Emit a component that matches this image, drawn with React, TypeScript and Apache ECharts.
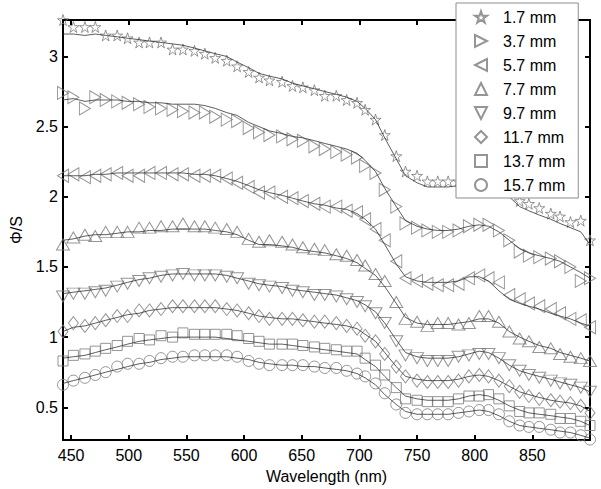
import React, { useEffect, useRef } from "react";
import * as echarts from "echarts";

const wavelengths = [443,452,462,471,480,490,499,509,518,528,538,547,557,566,575,585,594,604,613,622,633,642,651,661,670,680,689,698,705,714,722,732,740,750,759,768,777,786,795,804,812,821,830,839,847,856,866,874,883,892,900];

const seriesNames = ["1.7 mm","3.7 mm","5.7 mm","7.7 mm","9.7 mm","11.7 mm","13.7 mm","15.7 mm"];

// measured values (markers)
const meas17 = [3.26,3.21,3.21,3.21,3.15,3.15,3.13,3.10,3.10,3.10,3.05,3.05,3.04,3.02,2.99,2.97,2.93,2.89,2.85,2.83,2.82,2.79,2.78,2.76,2.72,2.72,2.69,2.67,2.62,2.55,2.44,2.29,2.18,2.15,2.11,2.11,2.11,2.11,2.16,2.17,2.15,2.14,2.06,1.97,1.95,1.92,1.88,1.86,1.82,1.83,1.69];
const meas37 = [2.74,2.71,2.63,2.71,2.69,2.68,2.67,2.66,2.64,2.63,2.62,2.61,2.60,2.60,2.57,2.55,2.54,2.49,2.46,2.44,2.43,2.41,2.40,2.36,2.34,2.32,2.30,2.28,2.22,2.17,2.05,1.93,1.81,1.78,1.76,1.75,1.75,1.76,1.79,1.80,1.80,1.76,1.69,1.61,1.58,1.57,1.56,1.54,1.50,1.40,1.42];
const meas57 = [2.15,2.16,2.14,2.15,2.16,2.17,2.15,2.15,2.17,2.17,2.16,2.16,2.15,2.15,2.15,2.13,2.10,2.07,2.03,2.03,2.00,1.99,1.97,1.95,1.93,1.93,1.90,1.89,1.84,1.77,1.69,1.54,1.42,1.40,1.38,1.37,1.37,1.38,1.42,1.44,1.42,1.39,1.30,1.27,1.24,1.22,1.20,1.17,1.13,1.12,1.07];
const meas77 = [1.66,1.71,1.73,1.72,1.75,1.75,1.75,1.78,1.78,1.79,1.79,1.81,1.79,1.79,1.78,1.77,1.75,1.70,1.68,1.69,1.68,1.66,1.64,1.63,1.62,1.59,1.58,1.55,1.51,1.45,1.40,1.25,1.13,1.11,1.08,1.10,1.10,1.09,1.10,1.15,1.15,1.11,1.04,0.99,0.97,0.93,0.92,0.88,0.86,0.85,0.83];
const meas97 = [1.29,1.31,1.31,1.32,1.33,1.36,1.38,1.40,1.42,1.43,1.44,1.45,1.44,1.44,1.44,1.43,1.42,1.38,1.37,1.36,1.35,1.33,1.32,1.30,1.30,1.29,1.27,1.25,1.22,1.17,1.10,0.97,0.87,0.85,0.83,0.83,0.83,0.86,0.87,0.88,0.88,0.85,0.80,0.76,0.73,0.71,0.69,0.67,0.66,0.64,0.61];
const meas117 = [1.04,1.10,1.08,1.10,1.12,1.15,1.15,1.19,1.19,1.20,1.22,1.22,1.22,1.22,1.22,1.20,1.19,1.17,1.15,1.13,1.13,1.13,1.12,1.11,1.11,1.10,1.08,1.06,1.01,0.97,0.88,0.79,0.72,0.69,0.68,0.68,0.68,0.69,0.72,0.73,0.72,0.69,0.65,0.61,0.58,0.56,0.55,0.54,0.53,0.51,0.46];
const meas137 = [0.83,0.87,0.88,0.90,0.92,0.94,0.97,0.99,0.98,1.01,1.00,1.03,1.02,1.02,1.02,1.02,1.01,0.99,0.97,0.95,0.95,0.95,0.94,0.93,0.92,0.91,0.90,0.90,0.85,0.80,0.73,0.64,0.56,0.55,0.54,0.54,0.54,0.56,0.58,0.58,0.59,0.56,0.51,0.47,0.46,0.46,0.45,0.42,0.42,0.40,0.37];
const meas157 = [0.66,0.69,0.71,0.73,0.75,0.79,0.81,0.81,0.83,0.85,0.86,0.86,0.87,0.87,0.87,0.87,0.86,0.83,0.81,0.80,0.80,0.80,0.80,0.79,0.78,0.78,0.76,0.74,0.72,0.67,0.60,0.52,0.46,0.45,0.45,0.45,0.45,0.46,0.47,0.48,0.48,0.45,0.40,0.37,0.36,0.36,0.34,0.32,0.32,0.30,0.27];

// model curves (lines)
const fit17 = [3.16,3.16,3.15,3.16,3.15,3.14,3.13,3.12,3.11,3.10,3.09,3.08,3.06,3.04,3.02,3.00,2.96,2.92,2.88,2.86,2.84,2.81,2.79,2.77,2.75,2.73,2.71,2.68,2.63,2.55,2.42,2.27,2.15,2.10,2.07,2.07,2.07,2.08,2.09,2.10,2.10,2.07,2.00,1.93,1.90,1.87,1.84,1.81,1.78,1.75,1.66];
const fit37 = [2.69,2.70,2.68,2.69,2.69,2.69,2.68,2.68,2.67,2.67,2.66,2.66,2.66,2.65,2.63,2.60,2.58,2.53,2.50,2.47,2.45,2.43,2.42,2.40,2.38,2.36,2.34,2.31,2.26,2.18,2.06,1.93,1.83,1.79,1.77,1.76,1.76,1.77,1.79,1.80,1.79,1.75,1.69,1.63,1.60,1.58,1.56,1.54,1.50,1.46,1.42];
const fit57 = [2.15,2.15,2.15,2.16,2.16,2.17,2.17,2.17,2.17,2.17,2.17,2.17,2.16,2.16,2.15,2.13,2.11,2.08,2.05,2.03,2.01,1.99,1.97,1.95,1.94,1.92,1.91,1.88,1.84,1.77,1.66,1.52,1.43,1.40,1.39,1.39,1.39,1.40,1.43,1.43,1.40,1.33,1.27,1.24,1.22,1.20,1.17,1.15,1.13,1.10,1.08];
const fit77 = [1.69,1.70,1.72,1.73,1.73,1.74,1.75,1.75,1.76,1.76,1.77,1.77,1.77,1.77,1.76,1.75,1.73,1.69,1.66,1.66,1.65,1.64,1.62,1.61,1.60,1.58,1.56,1.53,1.49,1.44,1.36,1.24,1.14,1.10,1.09,1.09,1.09,1.10,1.11,1.13,1.13,1.10,1.04,1.00,0.97,0.94,0.92,0.89,0.87,0.85,0.83];
const fit97 = [1.31,1.32,1.33,1.34,1.35,1.37,1.39,1.41,1.42,1.44,1.45,1.45,1.45,1.45,1.45,1.44,1.42,1.40,1.38,1.37,1.36,1.34,1.33,1.32,1.31,1.30,1.28,1.26,1.23,1.18,1.10,0.98,0.89,0.86,0.85,0.85,0.85,0.86,0.88,0.90,0.89,0.85,0.80,0.76,0.74,0.72,0.70,0.68,0.66,0.64,0.61];
const fit117 = [1.04,1.07,1.08,1.10,1.12,1.14,1.16,1.17,1.19,1.20,1.21,1.21,1.21,1.21,1.21,1.20,1.19,1.17,1.15,1.14,1.13,1.13,1.12,1.11,1.10,1.09,1.08,1.06,1.02,0.97,0.89,0.79,0.72,0.70,0.69,0.69,0.69,0.70,0.72,0.73,0.72,0.69,0.65,0.61,0.59,0.57,0.55,0.54,0.53,0.51,0.47];
const fit137 = [0.85,0.86,0.87,0.89,0.91,0.93,0.95,0.97,0.98,0.99,1.00,1.00,1.00,1.00,1.00,0.99,0.98,0.97,0.96,0.95,0.95,0.94,0.93,0.92,0.91,0.90,0.89,0.88,0.84,0.79,0.72,0.64,0.58,0.56,0.55,0.55,0.55,0.56,0.58,0.59,0.58,0.55,0.51,0.48,0.46,0.45,0.44,0.43,0.42,0.40,0.37];
const fit157 = [0.67,0.69,0.71,0.73,0.75,0.77,0.79,0.81,0.82,0.84,0.85,0.86,0.86,0.86,0.86,0.86,0.85,0.84,0.82,0.81,0.80,0.80,0.79,0.79,0.78,0.77,0.76,0.74,0.71,0.66,0.59,0.52,0.47,0.45,0.45,0.45,0.45,0.46,0.47,0.48,0.47,0.44,0.40,0.37,0.36,0.35,0.34,0.33,0.32,0.30,0.28];

const measured = [meas17, meas37, meas57, meas77, meas97, meas117, meas137, meas157];
const fitted = [fit17, fit37, fit57, fit77, fit97, fit117, fit137, fit157];

const xTicks = [450, 500, 550, 600, 650, 700, 750, 800, 850];
const yTicks = [0.5, 1, 1.5, 2, 2.5, 3];

const STAR = "path://M50 0 L61.17 34.63 L97.55 34.55 L68.07 55.87 L79.39 90.45 L50 69 L20.61 90.45 L31.93 55.87 L2.45 34.55 L38.83 34.63 Z";
const RIGHT = "path://M0 0 L100 50 L0 100 Z";
const LEFT = "path://M100 0 L0 50 L100 100 Z";
const UP = "path://M50 0 L100 100 L0 100 Z";
const DOWN = "path://M0 0 L100 0 L50 100 Z";

const symbols = [STAR, RIGHT, LEFT, UP, DOWN, "diamond", "rect", "circle"];
const symbolSizes: any[] = [11, [11, 13], [11, 13], [13, 11], [13, 11], [10, 13], 10, 11];

const FONT = "'Liberation Sans', Arial, sans-serif";
const MARKER = "#7a7a7a";
const LINE = "#333333";

export default function App() {
  const ref = useRef<HTMLDivElement>(null);
  useEffect(() => {
    document.body.style.margin = "0";
    if (!ref.current) return;
    const chart = echarts.init(ref.current, undefined, { renderer: "svg" });
    const scatter = measured.map((vals, k) => ({
      name: seriesNames[k],
      type: "scatter",
      symbol: symbols[k],
      symbolSize: symbolSizes[k],
      data: vals.map((v, i) => [wavelengths[i], v]),
      itemStyle: { color: "rgba(0,0,0,0)", borderColor: MARKER, borderWidth: 1 },
      emphasis: { disabled: true },
      z: 2,
    }));
    const lines = fitted.map((vals, k) => ({
      name: "fit " + seriesNames[k],
      type: "line",
      showSymbol: false,
      symbol: "none",
      data: vals.map((v, i) => [wavelengths[i], v]),
      lineStyle: { color: LINE, width: 0.8 },
      emphasis: { disabled: true },
      z: 3,
    }));
    const tickStyle = { color: "#000", width: 2 };
    const option: any = {
      animation: false,
      backgroundColor: "#fff",
      textStyle: { fontFamily: FONT },
      grid: { left: 55, top: 20, right: 11, bottom: 47, containLabel: false },
      xAxis: [
        {
          type: "value",
          min: 443,
          max: 900,
          position: "bottom",
          name: "Wavelength (nm)",
          nameLocation: "middle",
          nameGap: 17,
          nameTextStyle: { fontSize: 16, color: "#000", fontFamily: FONT },
          axisLine: { onZero: false, lineStyle: tickStyle },
          axisTick: { inside: true, length: 5, lineStyle: tickStyle, customValues: xTicks },
          axisLabel: { customValues: xTicks, fontSize: 16, color: "#000", fontFamily: FONT, margin: 7 },
          splitLine: { show: false },
        },
        {
          type: "value",
          min: 443,
          max: 900,
          position: "top",
          axisLine: { onZero: false, lineStyle: tickStyle },
          axisTick: { inside: true, length: 5, lineStyle: tickStyle, customValues: xTicks },
          axisLabel: { show: false },
          splitLine: { show: false },
        },
      ],
      yAxis: [
        {
          type: "value",
          min: 0.266,
          max: 3.26,
          position: "left",
          name: "Φ/S",
          nameLocation: "middle",
          nameGap: 39,
          nameTextStyle: { fontSize: 16, color: "#000", fontFamily: FONT },
          axisLine: { onZero: false, lineStyle: tickStyle },
          axisTick: { inside: true, length: 5, lineStyle: tickStyle, customValues: yTicks },
          axisLabel: {
            customValues: yTicks,
            fontSize: 16,
            color: "#000",
            fontFamily: FONT,
            margin: 5,
            formatter: (v: number) => String(v),
          },
          splitLine: { show: false },
        },
        {
          type: "value",
          min: 0.266,
          max: 3.26,
          position: "right",
          axisLine: { onZero: false, lineStyle: tickStyle },
          axisTick: { inside: true, length: 5, lineStyle: tickStyle, customValues: yTicks },
          axisLabel: { show: false },
          splitLine: { show: false },
        },
      ],
      legend: {
        data: seriesNames,
        orient: "vertical",
        left: 456,
        top: 3,
        padding: [6, 13, 5, 18],
        itemWidth: 12,
        itemHeight: 12,
        itemGap: 8,
        backgroundColor: "#fff",
        borderColor: "#8c8c8c",
        borderWidth: 1,
        borderRadius: 0,
        selectedMode: false,
        textStyle: { fontSize: 16, color: "#000", fontFamily: FONT, padding: [0, 0, 0, 11] },
        z: 10,
      },
      series: [...scatter, ...lines],
    };
    chart.setOption(option);
    return () => chart.dispose();
  }, []);
  return <div ref={ref} style={{ width: 601, height: 489 }} />;
}
